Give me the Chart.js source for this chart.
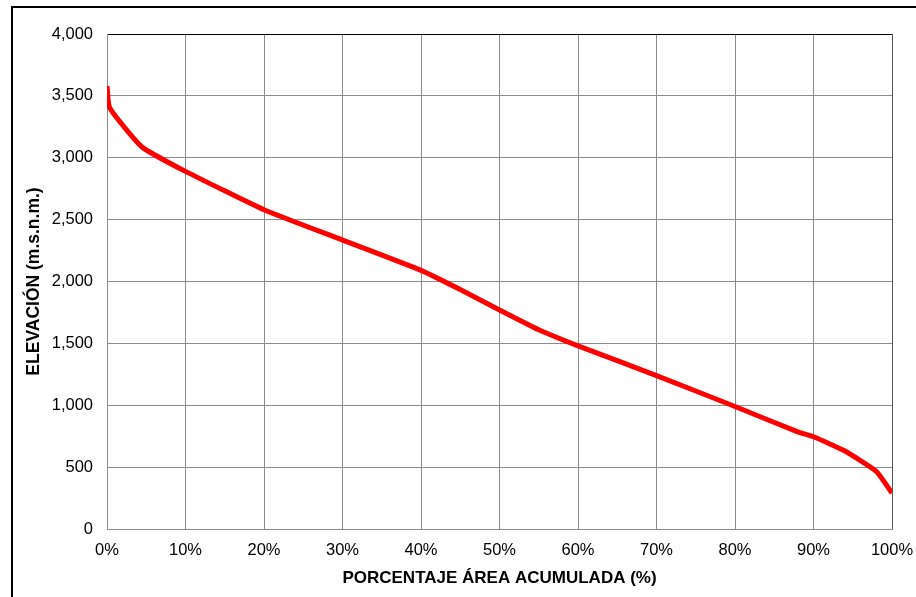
<!DOCTYPE html>
<html>
<head>
<meta charset="utf-8">
<script src="https://cdn.jsdelivr.net/npm/chart.js@4"></script>
<style>
html,body{margin:0;padding:0;background:#fff;}
#wrap{width:916px;height:597px;position:relative;}
</style>
</head>
<body>
<div id="wrap"><canvas id="c" width="916" height="597"></canvas></div>
<script>
// Cumulative area percentage (%)
const pctArea = [0, 0.3, 2.3, 4.6, 10, 20, 30, 40, 45, 50, 55, 60, 70, 80, 88, 90, 94, 98, 100];
// Elevation (m.s.n.m.)
const elevation = [3580, 3410, 3240, 3080, 2890, 2580, 2335, 2090, 1935, 1770, 1610, 1480, 1240, 990, 785, 745, 630, 465, 290];
const xTitle = 'PORCENTAJE ÁREA ACUMULADA (%)';
const yTitle = 'ELEVACIÓN (m.s.n.m.)';

const points = pctArea.map((p, i) => ({x: p, y: elevation[i]}));

const framePlugin = {
  id: 'frame',
  beforeDraw(chart) {
    const ctx = chart.ctx;
    ctx.save();
    ctx.fillStyle = '#fff';
    ctx.fillRect(0, 0, chart.width, chart.height);
    ctx.strokeStyle = '#000';
    ctx.lineWidth = 2;
    ctx.beginPath();
    ctx.moveTo(12, 610);
    ctx.lineTo(12, 7);
    ctx.lineTo(930, 7);
    ctx.stroke();
    ctx.restore();
  }
};

Chart.defaults.font.family = '"Liberation Sans", Arial, sans-serif';
Chart.defaults.color = '#000';

new Chart(document.getElementById('c'), {
  type: 'line',
  data: {
    datasets: [{
      data: points,
      borderColor: '#ff0000',
      borderWidth: 5,
      pointRadius: 0,
      fill: false,
      tension: 0.15
    }]
  },
  options: {
    responsive: false,
    animation: false,
    layout: {padding: {left: 24, right: 24, top: 34, bottom: 5}},
    plugins: {legend: {display: false}, tooltip: {enabled: false}},
    scales: {
      x: {
        type: 'linear',
        min: 0, max: 100,
        ticks: {stepSize: 10, font: {size: 16.5}, padding: 12, maxRotation: 0,
                callback: v => v + '%'},
        grid: {color: ctx => (ctx.tick && ctx.tick.value === 100) ? '#555' : '#8c8c8c', lineWidth: 1, drawTicks: false},
        border: {color: '#8c8c8c', width: 1},
        title: {display: true, text: xTitle, font: {size: 17, weight: 'bold'}, padding: {top: 4, bottom: 3}},
        afterFit: s => { s.height = 63; s.paddingLeft = 0; s.paddingRight = 0; }
      },
      y: {
        min: 0, max: 4000,
        ticks: {stepSize: 500, font: {size: 16.5}, padding: 14,
                callback: v => v.toLocaleString('en-US')},
        grid: {color: ctx => (ctx.tick && ctx.tick.value === 4000) ? '#000' : '#8c8c8c', lineWidth: 1, drawTicks: false},
        border: {color: '#8c8c8c', width: 1},
        title: {display: true, text: yTitle, font: {size: 17.5, weight: 'bold'}, padding: {top: 0, bottom: 0}},
        afterFit: s => { s.width = 83; s.paddingTop = 0; s.paddingBottom = 0; }
      }
    }
  },
  plugins: [framePlugin]
});
</script>
</body>
</html>
